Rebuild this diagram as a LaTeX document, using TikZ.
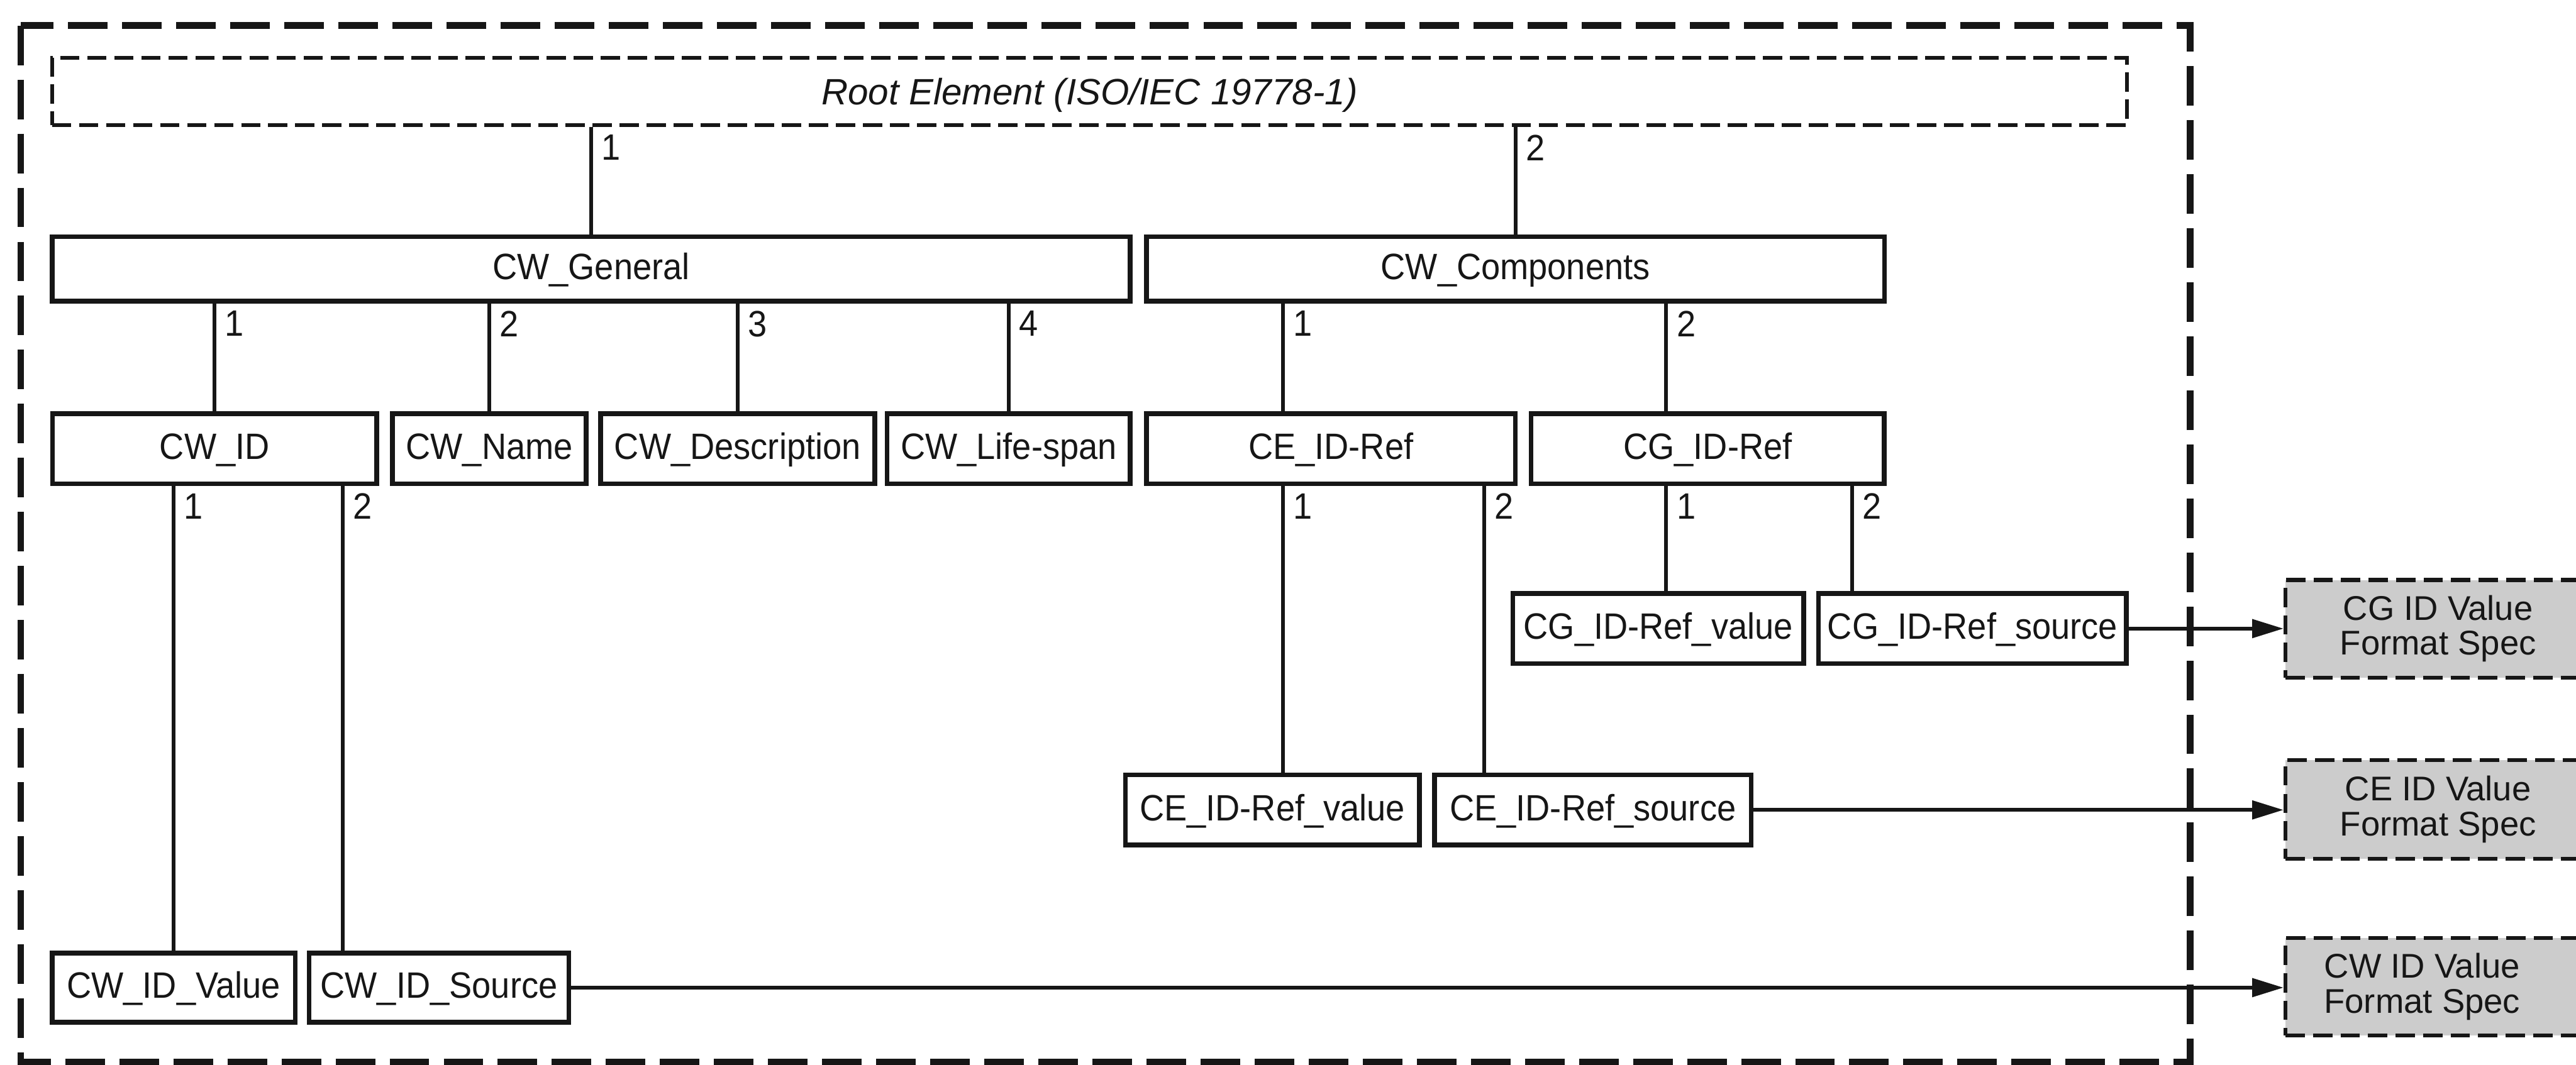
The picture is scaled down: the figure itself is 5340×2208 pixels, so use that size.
\documentclass[tikz,border=0pt]{standalone}
\usepackage{fontspec}
\setmainfont{Liberation Sans}
\newfontfamily\boxfont{Liberation Sans}[FakeStretch=0.93]
\usetikzlibrary{arrows.meta}
\definecolor{ink}{HTML}{161616}
\definecolor{specgray}{HTML}{CCCCCC}
\tikzset{
  box/.style={draw=ink, line width=0.10cm, rectangle, inner sep=0pt,
    text height=0.6cm, text depth=0.16cm, text=ink,
    font=\boxfont\fontsize{21.62}{24}\selectfont},
  rootbox/.style={draw=ink, line width=0.075cm, dash pattern=on 0.40cm off 0.16cm,
    rectangle, inner sep=0pt, text height=0.6cm, text depth=0.05cm, text=ink,
    font=\fontsize{21.62}{24}\selectfont\itshape},
  framebox/.style={draw=ink, line width=0.14cm, dash pattern=on 0.82cm off 0.30cm},
  conn/.style={draw=ink, line width=0.08cm},
  num/.style={anchor=north west, inner sep=0pt, text=ink,
    font=\boxfont\fontsize{21.62}{24}\selectfont},
  arrowline/.style={draw=ink, line width=0.075cm, -{Triangle[length=0.65cm, width=0.38cm]}},
  spec/.style={draw=ink, fill=specgray, dash pattern=on 0.40cm off 0.17cm,
    line width=0.085cm, rectangle, inner sep=0pt, align=center, text=ink,
    font=\fontsize{20.2}{20.5}\selectfont, minimum width=6.32cm}
}
\begin{document}
\begin{tikzpicture}[x=0.01cm, y=-0.01cm]
\useasboundingbox (0,0) rectangle (5340,2208);
\clip (0,0) rectangle (5340,2208);

% outer dashed frame
\draw[framebox] (43,53) rectangle (4540,2202);

% root
\node[rootbox, minimum width=42.99cm, minimum height=1.39cm] (root) at (2258.5,189.5) {Root Element (ISO/IEC 19778-1)};

% level 1
\node[box, minimum width=22.33cm, minimum height=1.33cm] (CWG) at (1225.5,557.5) {CW\_General};
\node[box, minimum width=15.29cm, minimum height=1.33cm] (CWC) at (3141.5,557.5) {CW\_Components};

% level 2
\node[box, minimum width=6.72cm, minimum height=1.45cm] (CWID) at (445,930.5) {CW\_ID};
\node[box, minimum width=4.01cm, minimum height=1.45cm] (CWName) at (1014.5,930.5) {CW\_Name};
\node[box, minimum width=5.68cm, minimum height=1.45cm] (CWDesc) at (1529,930.5) {CW\_Description};
\node[box, minimum width=5.04cm, minimum height=1.45cm] (CWLife) at (2091,930.5) {CW\_Life-span};
\node[box, minimum width=7.64cm, minimum height=1.45cm] (CEIDRef) at (2759,930.5) {CE\_ID-Ref};
\node[box, minimum width=7.32cm, minimum height=1.45cm] (CGIDRef) at (3540,930.5) {CG\_ID-Ref};

% level 3
\node[box, minimum width=6.03cm, minimum height=1.45cm] (CGval) at (3437.5,1303.5) {CG\_ID-Ref\_value};
\node[box, minimum width=6.38cm, minimum height=1.45cm] (CGsrc) at (4089,1303.5) {CG\_ID-Ref\_source};
\node[box, minimum width=6.09cm, minimum height=1.45cm] (CEval) at (2637.5,1679.5) {CE\_ID-Ref\_value};
\node[box, minimum width=6.56cm, minimum height=1.45cm] (CEsrc) at (3302,1679.5) {CE\_ID-Ref\_source};
\node[box, minimum width=5.04cm, minimum height=1.44cm] (CWval) at (360,2048) {CW\_ID\_Value};
\node[box, minimum width=5.38cm, minimum height=1.44cm] (CWsrc) at (910,2048) {CW\_ID\_Source};

% external specs
\node[spec, minimum height=2.02cm] (CGspec) at (5054,1304) {CG ID Value\\Format Spec};
\node[spec, minimum height=2.05cm] (CEspec) at (5054,1678.5) {CE ID Value\\Format Spec};
\node[spec, minimum height=2.02cm] (CWspec) at (5054,2046) {CW ID Value\hspace*{0.66cm}\\Format Spec\hspace*{0.66cm}};

% connector x positions
\coordinate (xce1) at (2659,0);
\coordinate (xce2) at (3077,0);
\coordinate (xcg1) at (3454,0);
\coordinate (xcg2) at (3839,0);
\coordinate (xcw2) at (710,0);

% connectors
\draw[conn] (root.south -| CWG.north) -- (CWG.north);
\draw[conn] (root.south -| CWC.north) -- (CWC.north);
\draw[conn] (CWG.south -| CWID.north) -- (CWID.north);
\draw[conn] (CWG.south -| CWName.north) -- (CWName.north);
\draw[conn] (CWG.south -| CWDesc.north) -- (CWDesc.north);
\draw[conn] (CWG.south -| CWLife.north) -- (CWLife.north);
\draw[conn] (CWC.south -| xce1) -- (CEIDRef.north -| xce1);
\draw[conn] (CWC.south -| xcg1) -- (CGIDRef.north -| xcg1);
\draw[conn] (CEIDRef.south -| xce1) -- (CEval.north -| xce1);
\draw[conn] (CEIDRef.south -| xce2) -- (CEsrc.north -| xce2);
\draw[conn] (CGIDRef.south -| xcg1) -- (CGval.north -| xcg1);
\draw[conn] (CGIDRef.south -| xcg2) -- (CGsrc.north -| xcg2);
\draw[conn] (CWID.south -| CWval.north) -- (CWval.north);
\draw[conn] (CWID.south -| xcw2) -- (CWsrc.north -| xcw2);

% arrows
\draw[arrowline] (CGsrc.east) -- (CGsrc.east -| CGspec.west);
\draw[arrowline] (CEsrc.east) -- (CEsrc.east -| CEspec.west);
\draw[arrowline] (CWsrc.east) -- (CWsrc.east -| CWspec.west);

% multiplicity labels
\node[num] (n01) at (1246.5,279) {1};
\node[num] (n02) at (3162.5,279) {2};
\node[num] (n11) at (466,644) {1};
\node[num] (n12) at (1035.5,644) {2};
\node[num] (n13) at (1550,644) {3};
\node[num] (n14) at (2112,644) {4};
\node[num] (n21) at (2680,644) {1};
\node[num] (n22) at (3475,644) {2};
\node[num] (n31) at (381,1023) {1};
\node[num] (n32) at (731,1023) {2};
\node[num] (n41) at (2680,1023) {1};
\node[num] (n42) at (3098,1023) {2};
\node[num] (n51) at (3475,1023) {1};
\node[num] (n52) at (3860,1023) {2};
\end{tikzpicture}
\end{document}
